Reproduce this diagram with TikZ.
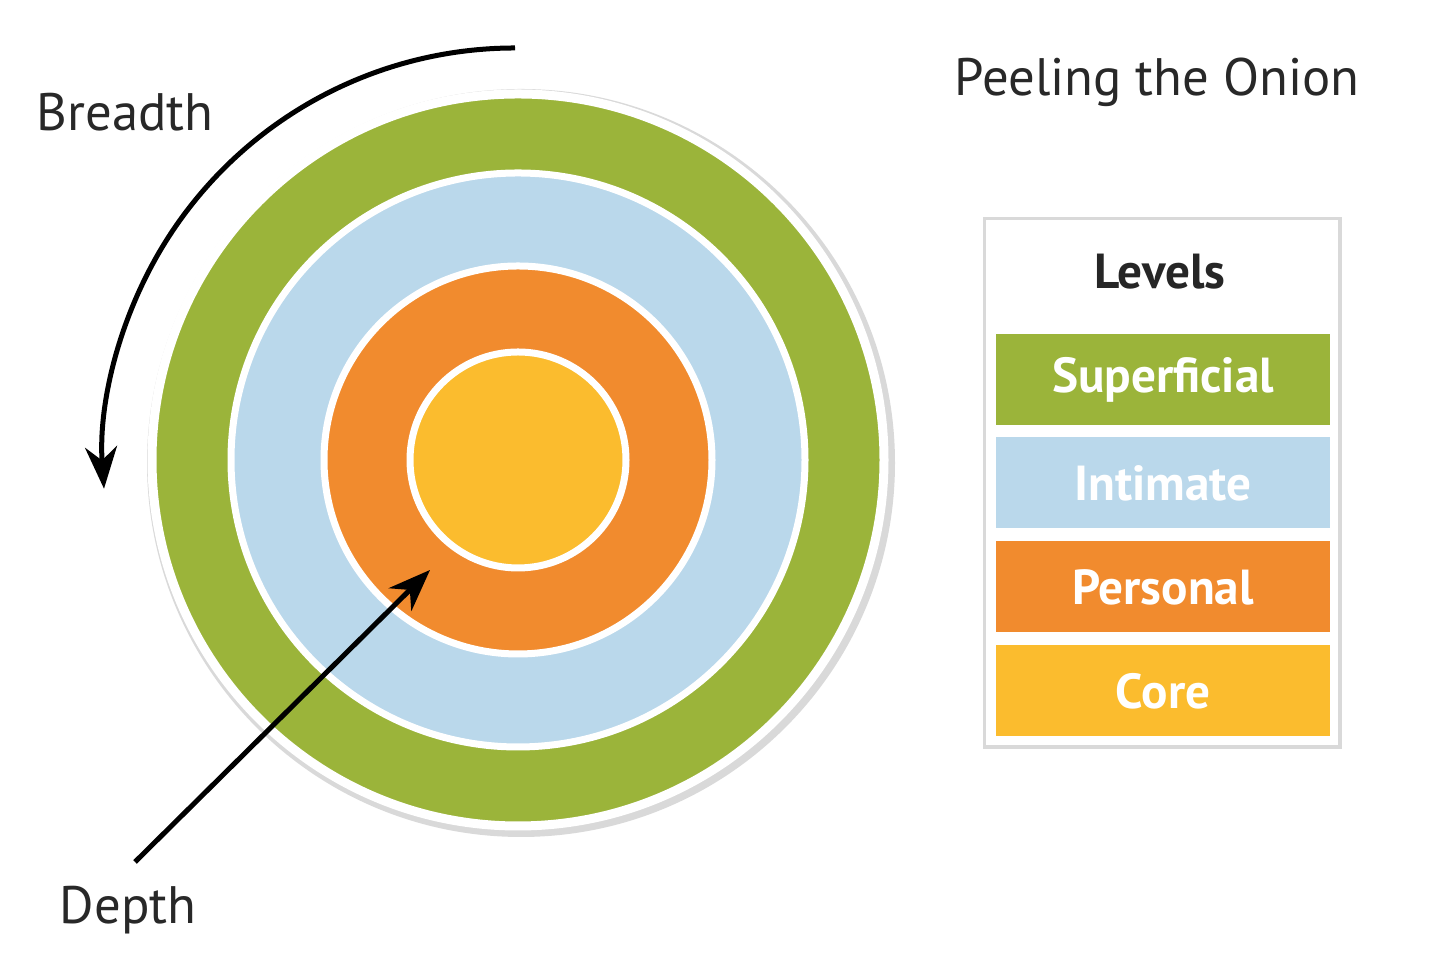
\documentclass[tikz,border=0pt]{standalone}
\usepackage{fontspec}
\setmainfont{PT Sans}
\usetikzlibrary{arrows.meta}
\definecolor{cgreen}{RGB}{155,180,58}
\definecolor{cblue}{RGB}{186,216,235}
\definecolor{corange}{RGB}{241,139,46}
\definecolor{cyellow}{RGB}{251,188,46}
\definecolor{ctext}{RGB}{40,40,40}
\tikzset{ring/.style={draw=white,line width=0.07cm},
  bar/.style={minimum width=3.34cm,minimum height=0.91cm,inner sep=0pt,text=white,font=\fontsize{14}{14}\selectfont\bfseries},
  lbl/.style={text=ctext,font=\fontsize{15}{15}\selectfont},
  arr/.style={line width=0.05cm,-{Stealth[length=0.42cm,width=0.32cm]}}}
\begin{document}
\begin{tikzpicture}
\useasboundingbox (0,0) rectangle (14.4,9.62);
\coordinate (c) at (5.18,5.02);
\fill[black!15] ([xshift=0.03cm,yshift=-0.03cm]c) circle (3.74);
\fill[cgreen,draw=white,line width=0.09cm] (c) circle (3.66);
\fill[cblue,ring] (c) circle (2.87);
\fill[corange,ring] (c) circle (1.94);
\fill[cyellow,ring] (c) circle (1.08);
\node[lbl] (br) at (1.25,8.5) {Breadth};
\node[lbl] (dp) at (1.28,0.52) {Depth};
\node[lbl] (ti) at (11.57,8.8) {Peeling the Onion};
\draw[arr] (5.15,9.14) arc[start angle=90,end angle=184,radius=4.12];
\coordinate (ds) at (1.35,1.0);
\coordinate (de) at (4.3,3.92);
\draw[arr] (ds) -- (de);
\fill[black!15] (9.83,2.13) rectangle (13.42,7.45);
\fill[white] (9.86,2.17) rectangle (13.38,7.42);
\node[font=\fontsize{14}{14}\selectfont\bfseries,text=black!85] (lv) at (11.6,6.9) {Levels};
\node[bar,fill=cgreen] (s) at (11.63,5.82) {Superficial};
\node[bar,fill=cblue] (i) at (11.63,4.79) {Intimate};
\node[bar,fill=corange] (p) at (11.63,3.75) {Personal};
\node[bar,fill=cyellow] (co) at (11.63,2.71) {Core};
\end{tikzpicture}
\end{document}
